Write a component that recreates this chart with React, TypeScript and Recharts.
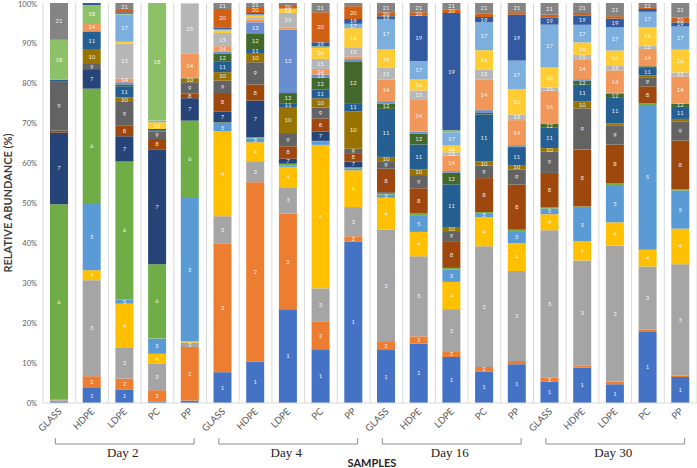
import React from 'react'
import { BarChart, Bar, XAxis, YAxis, CartesianGrid, LabelList } from 'recharts'

// samples per day, in the order they appear on the axis
const days = ['Day 2', 'Day 4', 'Day 16', 'Day 30']
const materials = ['GLASS', 'HDPE', 'LDPE', 'PC', 'PP']
const yTicks = [0, 0.1, 0.2, 0.3, 0.4, 0.5, 0.6, 0.7, 0.8, 0.9, 1]

// relative abundance (%) of each taxon, one value per sample (D2 x5, D4 x5, D16 x5, D30 x5)
const s1 = [0.3, 3.75, 3.4, 0.3, 0.6, 7.7, 10.4, 23.4, 13.4, 40.4, 13.2, 14.8, 11.5, 7.9, 9.7, 5.4, 8.8, 4.7, 17.9, 6.5]
const s2 = [0.3, 2.95, 2.7, 2.9, 13.4, 32.1, 44.8, 23.9, 6.85, 1.3, 2.05, 1.85, 1.25, 1.1, 0.8, 0.9, 0.6, 0.6, 0.4, 0.4]
const s3 = [0.4, 24, 7.65, 6.7, 1.1, 6.9, 5.25, 6.6, 8.35, 7.3, 28.05, 20, 10.7, 30.2, 22.5, 36.8, 26.25, 34.2, 15.8, 27.75]
const s4 = [0, 2.5, 11.05, 2.4, 0.4, 21.2, 4.75, 5.1, 35.8, 9.2, 7.9, 6.1, 6.8, 7.3, 7.0, 4.0, 4.8, 5.8, 4.2, 8.9]
const s5 = [0, 16.8, 1.1, 3.8, 35.75, 1.85, 1.0, 0.3, 0.75, 0.5, 0.8, 4.2, 3.1, 1.0, 3.0, 1.4, 8.3, 9.35, 36.1, 9.5]
const s6 = [48.7, 28.6, 34.5, 18.6, 19.35, 0.4, 0.25, 0.5, 0.25, 0.3, 0.25, 0.4, 0.4, 0.25, 0.35, 0.4, 0.35, 0.4, 0.4, 0.4]
const s7 = [17.9, 4.65, 6.3, 28.6, 5.6, 2.75, 9.2, 1.25, 2.3, 1.4, 0.3, 0, 0, 0, 0, 0, 0, 0, 0, 0]
const s8 = [0.5, 0.25, 2.6, 2.7, 1.2, 4.6, 4.0, 3.1, 3.3, 2.1, 5.9, 6.3, 6.5, 8.5, 11.3, 8.5, 14.3, 9.75, 4.3, 12.1]
const s9 = [12.2, 1.25, 5.95, 1.8, 2.8, 3.1, 5.6, 3.3, 2.7, 1.1, 1.7, 3.3, 2.7, 3.1, 3.75, 5.4, 10.25, 4.7, 2.1, 4.8]
const s10 = [0, 3.55, 1.15, 0.2, 1.0, 2.1, 2.33, 6.5, 2.3, 9.3, 1.25, 1.4, 0.83, 1.1, 1.1, 0.8, 1.7, 0.6, 0.6, 0.6]
const s11 = [0.5, 4.6, 2.8, 0.2, 0, 2.6, 1.0, 0.8, 2.25, 2.1, 12.0, 6.25, 10.85, 11.7, 4.3, 5.2, 4.2, 6.4, 1.9, 3.0]
const s12 = [0, 0, 0.4, 0.3, 0, 2.1, 3.75, 2.7, 2.9, 10.3, 1.3, 2.7, 2.9, 0.4, 0.35, 0.8, 1.0, 1.1, 0.4, 0.8]
const s13 = [0, 0, 0.6, 0, 0.1, 0.4, 2.9, 15.8, 0.8, 0.7, 0.6, 0.5, 0.4, 0.7, 0.35, 0, 0.4, 0.2, 0, 0]
const s14 = [0, 2.1, 0.9, 0, 6.0, 1.4, 0.67, 0.6, 1.4, 0.7, 5.4, 7.9, 3.9, 7.7, 6.25, 8.3, 5.0, 5.6, 4.3, 6.8]
const s15 = [0, 0, 8.7, 0, 12.5, 3.3, 0.6, 3.6, 2.5, 2.3, 2.9, 2.4, 0.8, 2.5, 1.4, 0.8, 1.1, 1.1, 0.8, 1.0]
const s16 = [0, 0, 0.5, 1.7, 0.2, 0.65, 0.4, 1.1, 2.75, 4.75, 4.6, 2.75, 1.7, 4.8, 6.4, 5.0, 3.1, 3.9, 4.7, 5.7]
const s17 = [0, 0, 6.8, 0.4, 0, 0.35, 0.33, 0, 0, 1.1, 7.5, 4.6, 3.3, 7.0, 7.1, 10.7, 4.4, 5.8, 3.8, 5.8]
const s18 = [10, 4.5, 0.2, 29.4, 0, 0, 0, 0, 0.4, 0, 0, 0, 0.5, 0, 0, 0, 0, 0, 0, 0]
const s19 = [0, 0.5, 0.4, 0, 0, 0.4, 0.33, 0, 1.0, 1.2, 0.8, 11.4, 29.3, 1.3, 11.5, 1.8, 2.25, 2.2, 0.7, 1.0]
const s20 = [0, 0, 0.55, 0, 0, 4.6, 1.5, 0.9, 7.5, 3.2, 1.0, 0.8, 0.8, 0.8, 0.6, 0.7, 0.7, 0.6, 0.25, 1.25]
const s21 = [9.2, 0, 1.75, 0, 0, 1.5, 1.0, 0.5, 2.3, 0.8, 2.3, 2.3, 1.7, 2.7, 2.3, 2.9, 2.5, 3.3, 1.25, 3.6]

const series = [s1, s2, s3, s4, s5, s6, s7, s8, s9, s10, s11, s12, s13, s14, s15, s16, s17, s18, s19, s20, s21]

// excel office palette
const colors = [
  '#4472C4', '#ED7D31', '#A5A5A5', '#FFC000', '#5B9BD5', '#70AD47',
  '#264478', '#9E480E', '#636363', '#997300', '#255E91', '#43682B',
  '#698ED0', '#F1975A', '#B7B7B7', '#FFCD33', '#7CAFDD', '#8CC168',
  '#335AA1', '#D26012', '#848484',
]

const data = days.flatMap((day, d) =>
  materials.map((m, j) => {
    const i = d * 5 + j
    const row: Record<string, number | string> = { key: `${day}|${m}` }
    series.forEach((s, k) => {
      row[`t${k + 1}`] = s[i]
    })
    return row
  })
)

const W = 697
const H = 468
const LEFT = 43
const BAND = (W - LEFT) / data.length
const FONT = 'Lato, "Open Sans", sans-serif'

// eslint-disable-next-line @typescript-eslint/no-explicit-any
const SampleTick = ({ x, y, payload, index }: any) => {
  const [day, name] = String(payload.value).split('|')
  const pos = index % 5
  const ex = x + 3
  const ey = y + 9
  return (
    <g>
      <text
        x={ex}
        y={ey}
        transform={`rotate(-45, ${ex}, ${ey})`}
        textAnchor="end"
        fontSize={9.5}
        fill="#595959"
        fontFamily={FONT}
      >
        {name}
      </text>
      {pos === 2 && (
        <g>
          <path
            d={`M${x - 2 * BAND - 4},${y + 35} V${y + 41} H${x + 2 * BAND + 4} V${y + 35}`}
            fill="none"
            stroke="#8c8c8c"
            strokeWidth={1}
          />
          <text
            x={x - 2}
            y={y + 54}
            textAnchor="middle"
            fontSize={13}
            fill="#222"
            fontFamily='"Liberation Serif", "DejaVu Serif", serif'
          >
            {day}
          </text>
        </g>
      )}
    </g>
  )
}

const makeLabel = (n: number) =>
  // eslint-disable-next-line @typescript-eslint/no-explicit-any
  (props: any) => {
    const { x, y, width, height } = props
    if (!height || height < 3.2) return null
    return (
      <text
        x={x + width / 2}
        y={y + height / 2}
        dy={2}
        textAnchor="middle"
        fontSize={6}
        fill="#ffffff"
        fillOpacity={0.9}
        fontFamily={FONT}
      >
        {n}
      </text>
    )
  }

export default function App() {
  return (
    <div style={{ position: 'absolute', left: 0, top: 0, width: W, height: H, background: '#fff' }}>
      <BarChart
        width={W}
        height={H}
        data={data}
        stackOffset="expand"
        barSize={18}
        margin={{ top: 3, right: 0, bottom: 0, left: 0 }}
      >
        <CartesianGrid
          horizontal={false}
          stroke="#d9d9d9"
          // eslint-disable-next-line @typescript-eslint/no-explicit-any
          verticalCoordinatesGenerator={({ offset }: any) =>
            Array.from({ length: data.length + 1 }, (_, i) => offset.left + (i * offset.width) / data.length)
          }
        />
        <XAxis
          dataKey="key"
          interval={0}
          height={65}
          tickLine={false}
          tickSize={0}
          tickMargin={0}
          axisLine={{ stroke: '#d9d9d9' }}
          tick={<SampleTick />}
        />
        <YAxis
          width={LEFT}
          domain={[0, 1]}
          ticks={yTicks}
          axisLine={false}
          tickLine={false}
          tickSize={4}
          tickMargin={2}
          tick={{ fontSize: 7.5, fill: '#595959', fontFamily: FONT }}
          tickFormatter={(v: number) => `${Math.round(v * 100)}%`}
        />
        {series.map((_, k) => (
          <Bar key={k} dataKey={`t${k + 1}`} stackId="a" fill={colors[k]} isAnimationActive={false}>
            <LabelList dataKey={`t${k + 1}`} content={makeLabel(k + 1)} />
          </Bar>
        ))}
        <text
          x={7}
          y={203}
          transform="rotate(-90, 7, 203)"
          textAnchor="middle"
          dominantBaseline="central"
          fontSize={11}
          fontWeight="bold"
          fill="#404040"
          fontFamily={FONT}
        >
          RELATIVE ABUNDANCE (%)
        </text>
        <text x={372} y={467} textAnchor="middle" fontSize={11} fontWeight="bold" fill="#262626" fontFamily={FONT}>
          SAMPLES
        </text>
      </BarChart>
    </div>
  )
}
